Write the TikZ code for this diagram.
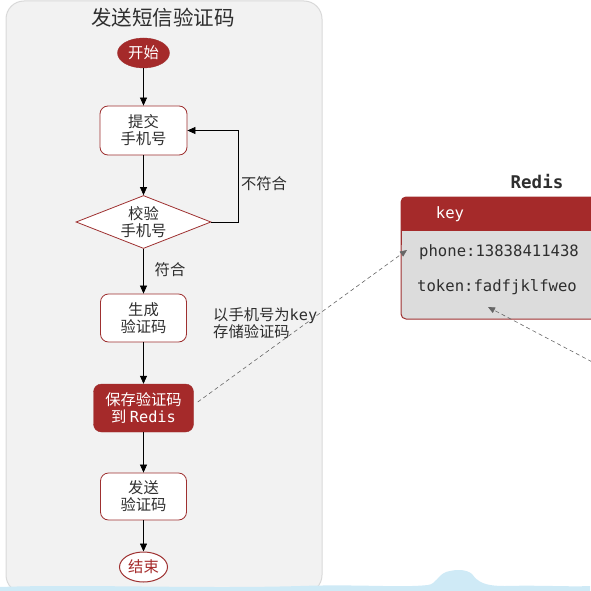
\documentclass[tikz,border=0pt]{standalone}
\usepackage{fontspec}
\setmainfont{Noto Sans CJK SC}
\newfontfamily\mono{DejaVu Sans Mono}
\usetikzlibrary{arrows.meta,shapes.geometric,calc}
\definecolor{dred}{HTML}{A52A2A}
\definecolor{bred}{HTML}{9E3030}
\definecolor{lane}{HTML}{F2F2F2}
\definecolor{txt}{HTML}{2E2E2E}
\definecolor{body}{HTML}{DCDCDC}
\definecolor{wave}{HTML}{CFEAF6}
\tikzset{
  fs/.style={font=\fontsize{15.3}{17}\selectfont},
  stepbox/.style={fs, draw=bred, fill=white, rounded corners=8pt, align=center, text=txt, inner sep=0pt, line width=0.8pt},
  savebox/.style={fs, draw=bred, fill=dred, rounded corners=8pt, align=center, text=white, inner sep=0pt},
  arr/.style={-{Triangle[length=8pt,width=7pt]}, line width=0.7pt, black},
  darr/.style={-{Triangle[length=7pt,width=6pt]}, dashed, line width=0.6pt, draw=black!60, dash pattern=on 4pt off 3pt},
  lbl/.style={fs, text=txt, inner sep=1pt},
  monot/.style={font=\mono\fontsize{15.6}{18}\selectfont},
}
\begin{document}
\begin{tikzpicture}[x=1pt,y=-1pt]
\useasboundingbox (0,0) rectangle (590,591);
% lane
\draw[fill=lane, draw=black!15, line width=1pt, rounded corners=18pt] (6,1) rectangle (322,593);
\node[font=\fontsize{20.5}{24}\selectfont, text=txt] (title) at (163,18) {发送短信验证码};
% nodes
\node[ellipse, fill=dred, draw=bred, text=white, fs, minimum width=52pt, minimum height=30pt, inner sep=0pt] (start) at (143.5,53) {开始};
\node[stepbox, minimum width=87pt, minimum height=49pt] (submit) at (143.5,130.5) {提交\\手机号};
\node[diamond, fs, draw=bred, fill=white, text=txt, align=center, inner sep=0pt, shape aspect=2.55, minimum width=135pt, minimum height=53pt, line width=0.8pt] (check) at (143.5,222) {校验\\手机号};
\node[stepbox, minimum width=86pt, minimum height=48pt] (gen) at (143.5,318) {生成\\验证码};
\node[savebox, minimum width=100pt, minimum height=48pt] (save) at (143.5,408) {保存验证码\\到 {\mono Redis}};
\node[stepbox, minimum width=86pt, minimum height=47pt] (send) at (143.5,496.5) {发送\\验证码};
\node[ellipse, draw=bred, fill=white, text=dred, fs, minimum width=48pt, minimum height=30pt, inner sep=0pt, line width=1pt] (end) at (143.5,567) {结束};
% arrows
\draw[arr] (start) -- (submit);
\draw[arr] (submit) -- (check);
\draw[arr] (check) -- (gen);
\draw[arr] (gen) -- (save);
\draw[arr] (save) -- (send);
\draw[arr] (send) -- (end);
\draw[arr] (check.east) -- ++(27,0) |- (submit.east);
\node[lbl] (nomatch) at (264,184) {不符合};
\node[lbl] (match) at (170,270) {符合};
\node[lbl, anchor=north west, align=left] (store) at (212,306) {以手机号为{\mono key}\\存储验证码};
% redis
\node[font=\mono\bfseries\fontsize{17.5}{20}\selectfont, text=txt] (redistitle) at (537,182) {Redis};
\draw[fill=body, draw=bred, line width=1pt, rounded corners=5pt] (401,197) rectangle (640,319);
\fill[dred, rounded corners=5pt] (401,197) rectangle (640,240);
\fill[body] (401.5,231) rectangle (640,245);
\draw[bred, line width=1pt] (401,225) -- (401,245);
\node[monot, text=white] (key) at (450,214) {key};
\node[monot, text=txt, anchor=west, inner sep=0pt] (phone) at (419,252) {phone:13838411438};
\node[monot, text=txt, anchor=west, inner sep=0pt] (token) at (417,287) {token:fadfjklfweo};
\draw[darr] (save.east) ++(4,-6) -- ([xshift=-12pt,yshift=2pt]phone.west);
\coordinate (tokfrom) at (598,365);
\coordinate (tokto) at (488,307);
\draw[darr] (tokfrom) -- (tokto);
% wave
\fill[wave] (0,592) -- (0,587) .. controls (80,584) and (200,589) .. (300,586)
  .. controls (360,584) and (400,588) .. (428,585)
  .. controls (436,584) and (438,575) .. (446,572)
  .. controls (456,569) and (466,569) .. (472,574)
  .. controls (478,582) and (484,586) .. (505,586)
  .. controls (540,585) and (570,587) .. (590,586) -- (590,592) -- cycle;
\end{tikzpicture}
\end{document}
